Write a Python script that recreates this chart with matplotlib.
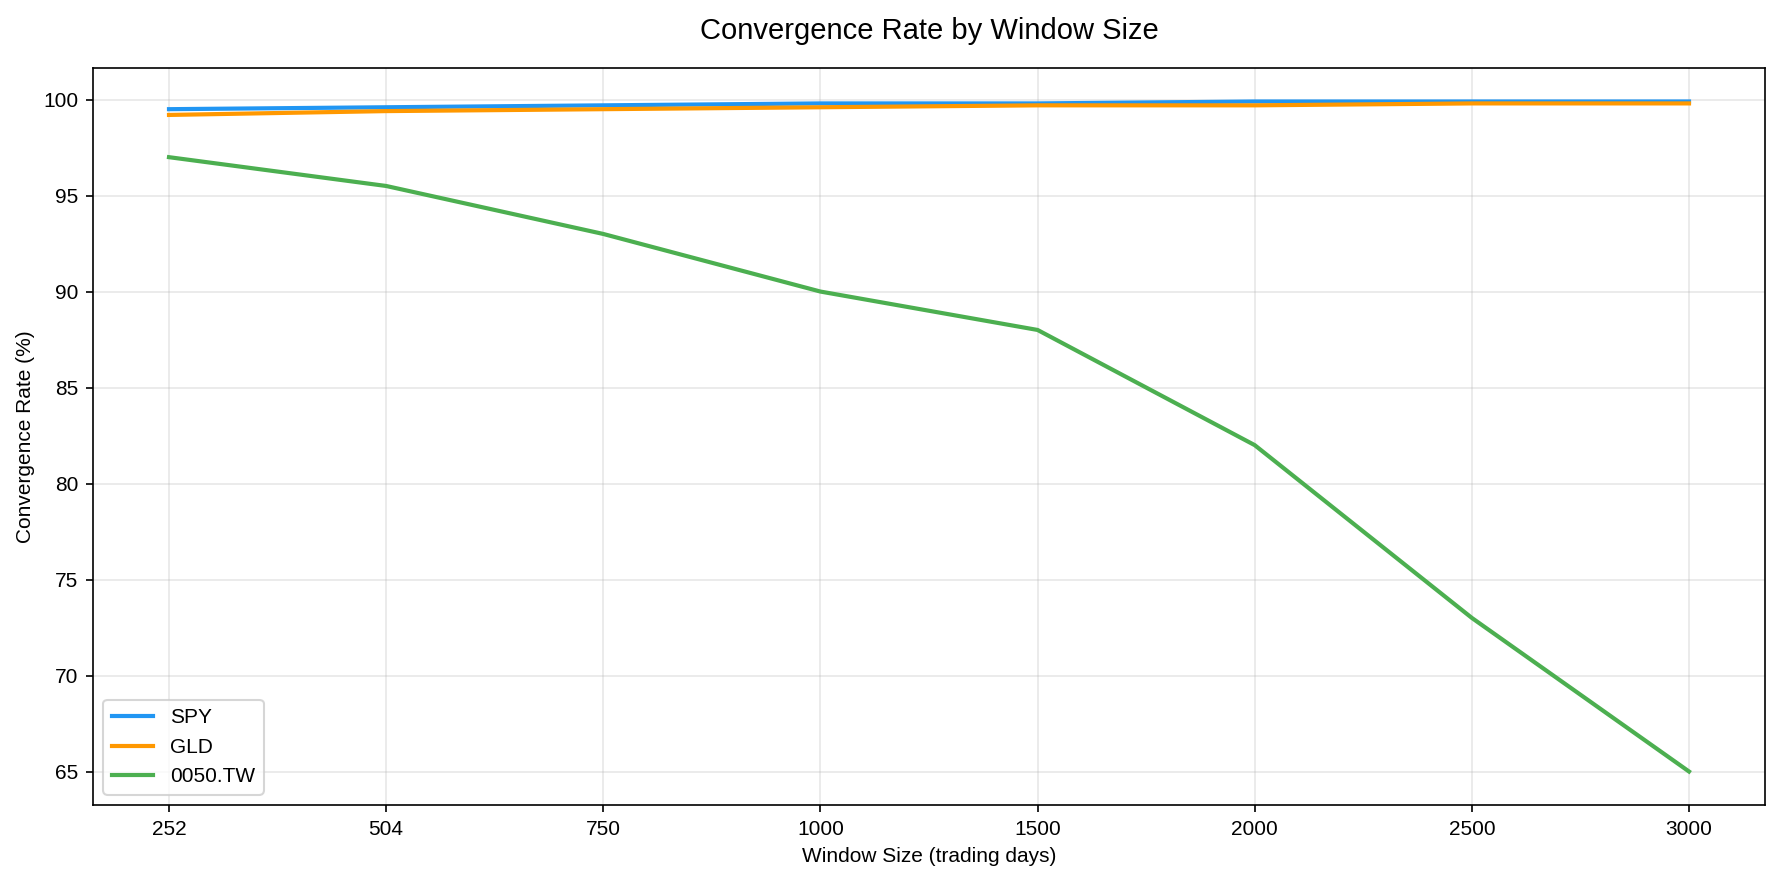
import matplotlib
matplotlib.use("Agg")
import matplotlib.pyplot as plt

plt.rcParams['font.family'] = ['Liberation Sans', 'DejaVu Sans']

windows = ["252", "504", "750", "1000", "1500", "2000", "2500", "3000"]
spy = [99.5, 99.6, 99.7, 99.8, 99.8, 99.9, 99.9, 99.9]
gld = [99.2, 99.4, 99.5, 99.6, 99.7, 99.7, 99.8, 99.8]
tw0050 = [97.0, 95.5, 93.0, 90.0, 88.0, 82.0, 73.0, 65.0]

fig, ax = plt.subplots(figsize=(1783/150, 883/150), dpi=150)
ax.plot(windows, spy, color='#2196F3', lw=2, label='SPY')
ax.plot(windows, gld, color='#FF9800', lw=2, label='GLD')
ax.plot(windows, tw0050, color='#4CAF50', lw=2, label='0050.TW')

ax.set_title('Convergence Rate by Window Size', fontsize=14, pad=14)
ax.set_xlabel('Window Size (trading days)', fontsize=10)
ax.set_ylabel('Convergence Rate (%)', fontsize=10)
ax.grid(True, alpha=0.3)
ax.legend(loc='lower left', fontsize=10)
fig.subplots_adjust(left=93/1783, right=1765/1783, top=1-68/883, bottom=1-805/883)
fig.savefig('out.png', dpi=150)
